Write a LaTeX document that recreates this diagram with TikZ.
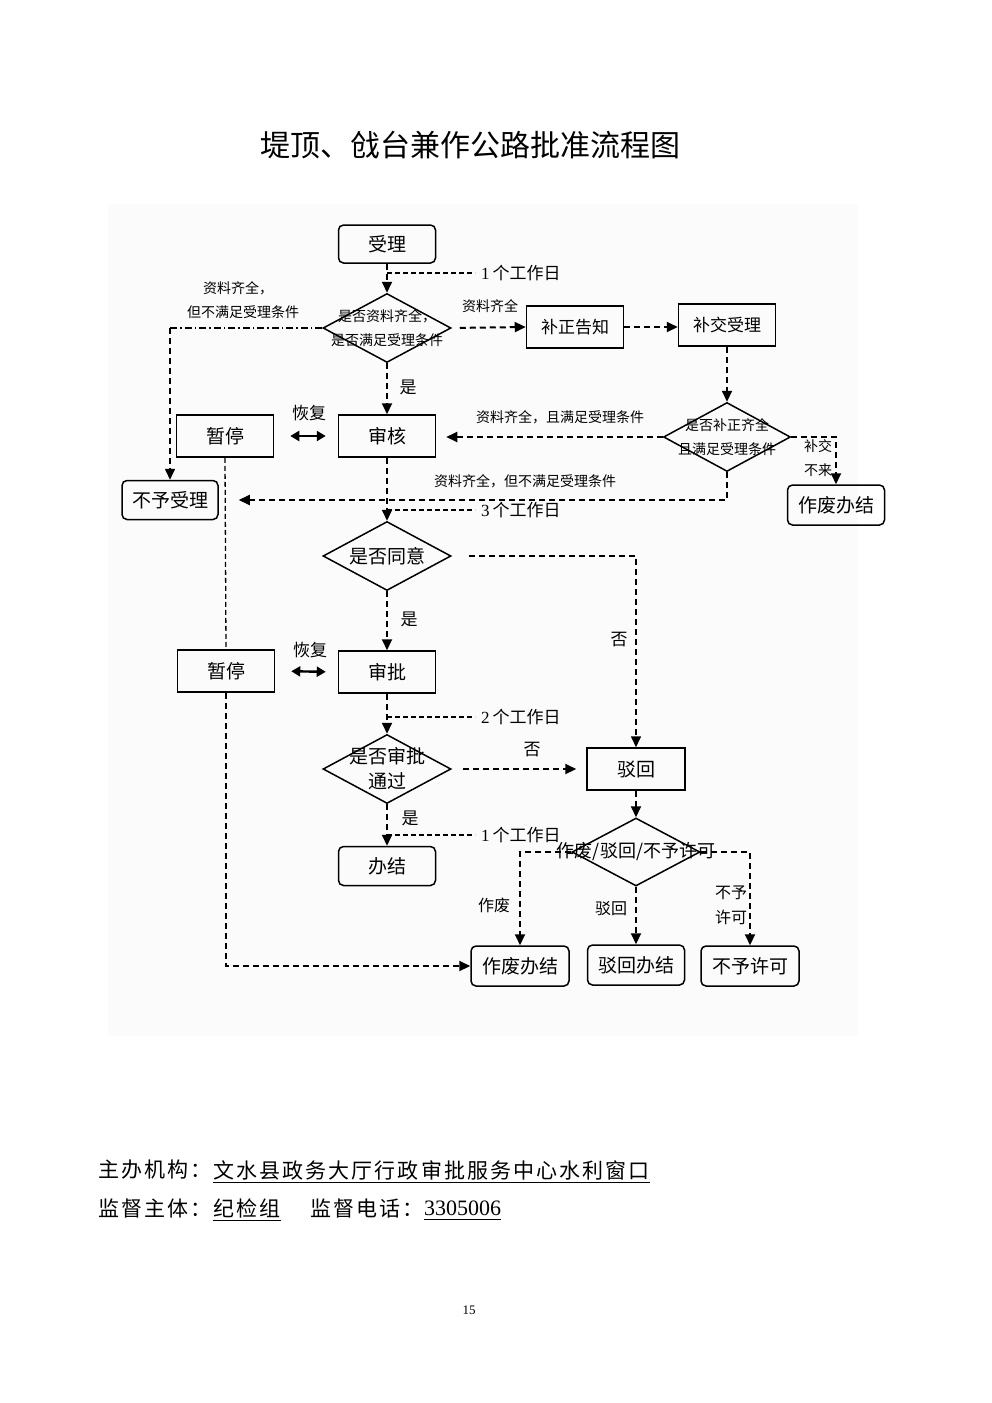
\documentclass[tikz,border=0pt]{standalone}
\usepackage{fontspec}
\setmainfont{Liberation Serif}
\newfontfamily\cjk{Noto Sans CJK SC}
\newfontfamily\cjkw[LetterSpace=10]{Noto Sans CJK SC}
\usetikzlibrary{shapes.geometric,arrows.meta}
\newcommand{\fs}[1]{\fontsize{#1}{#1}\selectfont}
\begin{document}
\begin{tikzpicture}[x=1pt,y=-1pt,
 box/.style={draw,line width=1.5pt,minimum width=97pt,minimum height=42pt,inner sep=0,font=\cjk\fs{19}},
 rbox/.style={box,rounded corners=5pt,minimum height=40pt},
 dia/.style={draw,shape=diamond,line width=1.5pt,inner sep=0,minimum width=128pt,minimum height=69pt},
 lbl/.style={font=\cjk\fs{14},inner sep=0,align=center},
 mid/.style={font=\cjk\fs{17},inner sep=0,align=center},
 flow/.style={line width=2pt,dash pattern=on 6pt off 4pt,-{Triangle[length=11pt,width=10pt]}},
 thinline/.style={line width=1.3pt,dash pattern=on 5pt off 3pt},
 dbl/.style={line width=2.4pt,{Triangle[length=9pt,width=10pt]}-{Triangle[length=9pt,width=10pt]}},
]
\useasboundingbox (0,0) rectangle (992,1403);
\fill[black!1.5] (108,204) rectangle (858,1036);

% title
\node[font=\cjk\fs{30},inner sep=0] (title) at (470,145) {堤顶、戗台兼作公路批准流程图};

% nodes
\node[rbox,minimum height=38pt] (sl) at (387,244) {受理};
\node[dia] (d1) at (387,328) {};
\node[lbl,font=\cjk\fontsize{14}{24}\selectfont] (d1t) at (d1) {是否资料齐全，\\是否满足受理条件};
\node[box,font=\cjk\fs{17}] (bz) at (575,327) {补正告知};
\node[box,font=\cjk\fs{17}] (bj) at (727,325) {补交受理};
\node[box] (sh) at (387,436) {审核};
\node[box] (zt1) at (225,436) {暂停};
\node[dia,minimum width=127pt] (d2) at (727,437) {};
\node[lbl,font=\cjk\fontsize{14}{24}\selectfont] (d2t) at (d2) {是否补正齐全\\且满足受理条件};
\node[rbox,minimum width=96pt,minimum height=39pt] (byl) at (170,500) {不予受理};
\node[rbox,minimum width=97pt] (zf1) at (836,505) {作废办结};
\node[dia] (d3) at (387,556) {};
\node[font=\cjk\fs{19},inner sep=0] (d3t) at (d3) {是否同意};
\node[box] (sp) at (387,672) {审批};
\node[box] (zt2) at (226,671) {暂停};
\node[dia] (d4) at (387,769) {};
\node[font=\cjk\fontsize{19}{25}\selectfont,inner sep=0,align=center] (d4t) at (d4) {是否审批\\通过};
\node[box,minimum width=98pt] (bh) at (636,769) {驳回};
\node[dia,minimum height=68pt] (d5) at (636,852) {};
\node[font=\cjk\fs{18},inner sep=0] (d5t) at (d5) {作废/驳回/不予许可};
\node[rbox,minimum height=39pt] (bj2) at (387,866) {办结};
\node[rbox,minimum width=98pt] (zf2) at (520,966) {作废办结};
\node[rbox,minimum width=97pt] (bh2) at (636,965) {驳回办结};
\node[rbox,minimum width=98pt] (bx) at (750,966) {不予许可};

% labels
\node[font=\fs{17},inner sep=0,anchor=west] (t1) at (481,273) {1\,{\cjk 个工作日}};
\node[font=\fs{17},inner sep=0,anchor=west] (t3) at (481,510) {3\,{\cjk 个工作日}};
\node[font=\fs{17},inner sep=0,anchor=west] (t2) at (481,717) {2\,{\cjk 个工作日}};
\node[font=\fs{17},inner sep=0,anchor=west] (t4) at (481,835) {1\,{\cjk 个工作日}};
\node[lbl] (l1) at (238,288) {资料齐全，};
\node[lbl] (l2) at (243,312) {但不满足受理条件};
\node[lbl] (l3) at (490,306) {资料齐全};
\node[mid] (y1) at (408,387) {是};
\node[mid] (hf1) at (309,413) {恢复};
\node[lbl] (l4) at (560,417) {资料齐全，且满足受理条件};
\node[lbl] (l5) at (818,446) {补交};
\node[lbl] (l6) at (818,470) {不来};
\node[lbl] (l7) at (525,481) {资料齐全，但不满足受理条件};
\node[mid] (y2) at (409,619) {是};
\node[mid] (n1) at (619,640) {否};
\node[mid] (hf2) at (310,650) {恢复};
\node[mid] (n2) at (532,750) {否};
\node[mid] (y3) at (410,818) {是};
\node[font=\cjk\fs{16},inner sep=0] (l8) at (494,905) {作废};
\node[font=\cjk\fs{16},inner sep=0] (l9) at (611,909) {驳回};
\node[font=\cjk\fs{16},inner sep=0] (l10) at (731,893) {不予};
\node[font=\cjk\fs{16},inner sep=0] (l11) at (731,917) {许可};

% connectors
\draw[flow] (sl.south) -- (d1.north);
\draw[thinline] (sl.south |- t1.west) -- ([xshift=-6pt]t1.west);
\draw[flow,shorten <=8pt] (d1.east) -- (bz.west);
\draw[flow] (bz.east) -- (bz.east -| bj.west);
\coordinate (c1) at (d1.west -| byl.north);
\draw[line width=1.5pt,dash pattern=on 7pt off 3pt on 1.5pt off 3pt] (d1.west) -- (c1);
\draw[flow,line width=1.6pt] (c1) -- (byl.north);
\draw[flow] (d1.south) -- (sh.north);
\draw[dbl,shorten <=16pt,shorten >=12pt] (zt1.east) -- (sh.west);
\draw[flow] (bj.south) -- (d2.north);
\draw[flow,shorten >=10pt] (d2.west) -- (d2.west -| sh.east);
\draw[flow] (d2.east) -| (zf1.north);
\draw[flow,shorten >=20pt] (d2.south) |- (byl.east);
\draw[flow] (sh.south) -- (d3.north);
\draw[thinline] (sh.south |- t3.west) -- ([xshift=-6pt]t3.west);
\draw[flow,line width=1.6pt,shorten <=17pt] (d3.east) -| (bh.north);
\draw[flow] (d3.south) -- (sp.north);
\draw[dbl,shorten <=16pt,shorten >=12pt] (zt2.east) -- (sp.west);
\draw[thinline] (zt1.south) -- (zt2.north);
\draw[flow] (zt2.south) |- (zf2.west);
\draw[flow] (sp.south) -- (d4.north);
\draw[thinline] (sp.south |- t2.west) -- ([xshift=-6pt]t2.west);
\draw[flow,shorten <=11pt,shorten >=10pt] (d4.east) -- (d4.east -| bh.west);
\draw[flow] (bh.south) -- (d5.north);
\draw[flow] (d5.west) -| (zf2.north);
\draw[flow] (d5.east) -| (bx.north);
\draw[flow] (d5.south) -- (bh2.north);
\draw[flow] (d4.south) -- (bj2.north);
\draw[thinline] (d4.south |- t4.west) -- ([xshift=-6pt]t4.west);

% footer
\node[font=\cjkw\fs{21},inner sep=0,anchor=west] (f1) at (98,1170) {主办机构：};
\node[font=\cjkw\fs{21},inner sep=0,anchor=west] (f2) at (213,1170) {文水县政务大厅行政审批服务中心水利窗口};
\node[font=\cjkw\fs{21},inner sep=0,anchor=west] (f3) at (98,1208) {监督主体：};
\node[font=\cjkw\fs{21},inner sep=0,anchor=west] (f4) at (213,1208) {纪检组};
\node[font=\cjkw\fs{21},inner sep=0,anchor=west] (f5) at (310,1208) {监督电话：};
\node[font=\fs{22},inner sep=0,anchor=west] (f6) at (424,1208) {3305006};
\draw[line width=1pt] ([yshift=-12pt]f2.west) -- ([yshift=-12pt]f2.east);
\draw[line width=1pt] ([yshift=-12pt]f4.west) -- ([yshift=-12pt]f4.east);
\draw[line width=1pt] ([yshift=-11pt]f6.west) -- ([yshift=-11pt]f6.east);
\node[font=\fs{13},inner sep=0] (pg) at (469,1310) {15};
\end{tikzpicture}
\end{document}
